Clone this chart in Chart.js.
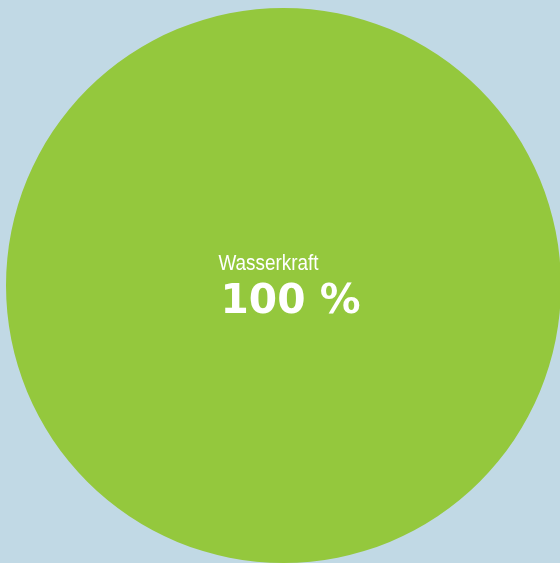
<!DOCTYPE html>
<html>
<head>
<meta charset="utf-8">
<script src="https://cdn.jsdelivr.net/npm/chart.js@4"></script>
<style>
  html, body { margin: 0; padding: 0; width: 560px; height: 563px; overflow: hidden; background: #c1d9e5; }
  #wrap { position: absolute; left: 6px; top: 8px; width: 555px; height: 555px; }
</style>
</head>
<body>
<div id="wrap"><canvas id="chart"></canvas></div>
<script>
// Strommix: one source only
const labels = ['Wasserkraft'];
const values = [100];
const colors = ['#94c83d'];

// draws the label + percentage inside the pie, left-aligned a bit off centre
const sliceText = {
  id: 'sliceText',
  afterDatasetsDraw(chart) {
    const arc = chart.getDatasetMeta(0).data[0];
    if (!arc) return;
    const ctx = chart.ctx;
    const total = values.reduce((a, b) => a + b, 0);
    const pct = Math.round(values[0] / total * 100);
    ctx.save();
    ctx.fillStyle = '#ffffff';
    ctx.textAlign = 'left';
    ctx.textBaseline = 'alphabetic';
    ctx.font = "22px 'Liberation Sans Narrow', 'Liberation Sans', sans-serif";
    ctx.fillText(labels[0], arc.x - 65, arc.y - 16, 100);
    ctx.font = "bold 41px 'DejaVu Sans', sans-serif";
    ctx.fillText(pct + ' %', arc.x - 63, arc.y + 27, 140);
    ctx.restore();
  }
};

new Chart(document.getElementById('chart'), {
  type: 'pie',
  data: {
    labels: labels,
    datasets: [{ data: values, backgroundColor: colors, borderWidth: 0 }]
  },
  options: {
    responsive: true,
    maintainAspectRatio: false,
    animation: false,
    layout: { padding: 0 },
    plugins: {
      legend: { display: false },
      tooltip: { enabled: false }
    }
  },
  plugins: [sliceText]
});
</script>
</body>
</html>
